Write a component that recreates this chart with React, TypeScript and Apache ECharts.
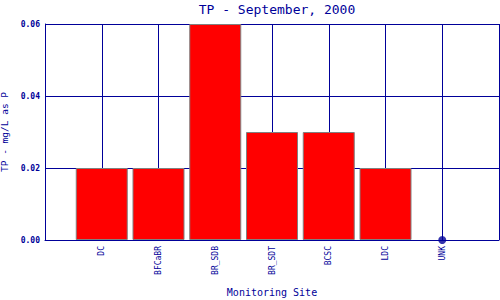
import React, { useEffect, useRef } from "react";
import * as echarts from "echarts";

const categories = ["DC", "BFCaBR", "BR_SDB", "BR_SDT", "BCSC", "LDC", "UNK"];
const values = [0.02, 0.02, 0.06, 0.03, 0.03, 0.02, 0];
const yTicks = [0, 0.02, 0.04, 0.06];

const NAVY = "#000099";
const MONO = "'DejaVu Sans Mono', 'Liberation Mono', monospace";

export default function App() {
  const ref = useRef<HTMLDivElement>(null);
  useEffect(() => {
    if (!ref.current) return;
    const chart = echarts.init(ref.current, null, { renderer: "svg" });
    const barData = values
      .map((v, i) => [i + 1, v])
      .filter((d) => d[1] > 0);
    const zeroData = values
      .map((v, i) => [i + 1, v])
      .filter((d) => d[1] === 0);
    chart.setOption({
      animation: false,
      backgroundColor: "#ffffff",
      title: {
        text: "TP - September, 2000",
        left: 272,
        textAlign: "center",
        top: -2,
        textStyle: { fontFamily: MONO, fontSize: 13, fontWeight: "normal", color: NAVY },
      },
      grid: { left: 45, right: 1, top: 24, bottom: 60, containLabel: false, outerBoundsMode: "none" },
      xAxis: {
        type: "value",
        min: 0,
        max: categories.length + 1,
        interval: 1,
        name: "Monitoring Site",
        nameLocation: "middle",
        nameGap: 47,
        nameTextStyle: { fontFamily: MONO, fontSize: 10, color: NAVY },
        axisLine: { show: true, lineStyle: { color: NAVY, width: 1 } },
        axisTick: { show: false },
        splitLine: { show: true, lineStyle: { color: NAVY, width: 1 } },
        axisLabel: {
          rotate: 90,
          fontFamily: MONO,
          fontSize: 8,
          color: NAVY,
          margin: 6,
          formatter: (v: number) => (v >= 1 && v <= categories.length ? categories[v - 1] : ""),
        },
      },
      yAxis: {
        type: "value",
        min: yTicks[0],
        max: yTicks[yTicks.length - 1],
        interval: 0.02,
        name: "TP - mg/L as P",
        nameLocation: "middle",
        nameGap: 35,
        nameTextStyle: { fontFamily: MONO, fontSize: 9.5, color: NAVY, padding: [0, 0, 0, 0] },
        axisLine: { show: true, lineStyle: { color: NAVY, width: 1 } },
        axisTick: { show: false },
        splitLine: { show: true, lineStyle: { color: NAVY, width: 1 } },
        axisLabel: {
          fontFamily: MONO,
          fontSize: 8,
          fontWeight: "bold",
          color: NAVY,
          margin: 5,
          formatter: (v: number) => v.toFixed(2),
        },
      },
      series: [
        {
          type: "bar",
          data: barData,
          barWidth: 52,
          itemStyle: { color: "#ff0000", borderColor: "#808080", borderWidth: 1 },
        },
        {
          type: "scatter",
          data: zeroData,
          symbol: "circle",
          symbolSize: 8,
          itemStyle: { color: NAVY },
          z: 5,
        },
      ],
    });
    return () => chart.dispose();
  }, []);
  return (
    <div
      ref={ref}
      style={{ position: "fixed", left: 0, top: 0, width: 500, height: 300 }}
    />
  );
}
